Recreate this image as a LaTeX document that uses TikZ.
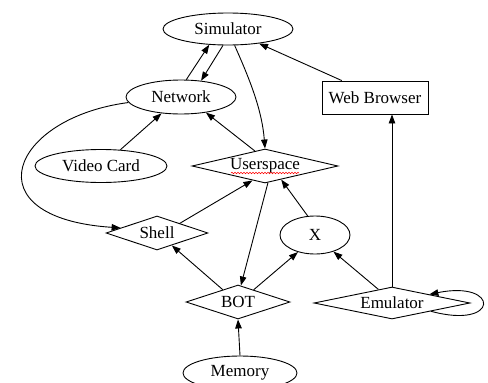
\documentclass[tikz,border=0pt]{standalone}
\usepackage{fontspec}
\setmainfont{Liberation Serif}
\usetikzlibrary{shapes.geometric,arrows.meta,decorations.pathmorphing,calc}
\begin{document}
\begin{tikzpicture}[x=1pt,y=-1pt,
  every node/.style={font=\fontsize{17}{19}\selectfont, inner sep=0pt, draw, line width=0.9pt},
  edge/.style={line width=0.9pt, -{Triangle[length=9pt,width=6.5pt]}}
]
\useasboundingbox (0,0) rectangle (488,383);
\node[ellipse, minimum width=130pt, minimum height=32pt] (Sim) at (228,29) {Simulator};
\node[ellipse, minimum width=110pt, minimum height=34pt] (Net) at (181,97) {Network};
\node[rectangle, minimum width=106pt, minimum height=33pt] (Web) at (375,97.5) {Web Browser};
\node[ellipse, minimum width=132pt, minimum height=33pt] (Video) at (101,166) {Video Card};
\node[diamond, aspect=4.3, minimum width=146pt, minimum height=34pt] (User) at (265,166) {Userspace};
\node[diamond, aspect=3, minimum width=102pt, minimum height=34pt] (Shell) at (157,233) {Shell};
\node[ellipse, minimum width=70pt, minimum height=38pt] (X) at (315,235) {X};
\node[diamond, aspect=3.06, minimum width=104pt, minimum height=34pt] (BOT) at (238,302) {BOT};
\node[diamond, aspect=4.9, minimum width=156pt, minimum height=32pt] (Emu) at (392,303) {Emulator};
\node[ellipse, minimum width=114pt, minimum height=34pt] (Mem) at (240,373) {Memory};

\draw[red, line width=0.5pt, decorate, decoration={snake, amplitude=0.8pt, segment length=3pt}]
  ($(User.center)+(-34,7)$) -- ($(User.center)+(34,7)$);

\draw[edge] (Net.73.6) -- (Sim.220);
\draw[edge] (Sim.253.6) -- (Net.39);
\draw[edge] (Sim.292.4) .. controls (250,80) and (262,110) .. (User.north);
\draw[edge] (Web.153.4) -- (Sim.335.4);
\draw[edge] (Video.40) -- (Net.220);
\draw[edge] (User.124) -- (Net.328.4);
\draw[edge] (Net.186.5) .. controls (10,118) and (-30,218) .. (Shell.172.3);
\draw[edge] (Shell.23.5) -- (User.229.4);
\draw[edge] (X.111) -- (User.320);
\draw[edge] (User.280) -- (BOT.80);
\draw[edge] (BOT.141) -- (Shell.320);
\draw[edge] (BOT.38.7) -- (X.225);
\draw[edge] (Emu.135) -- (X.318);
\draw[edge] (Emu.north) -- (Emu.north |- Web.south);
\draw[edge] (Emu.348) .. controls (500,330) and (500,280) .. (Emu.13.7);
\draw[edge] (Mem.north) -- (BOT.south);
\end{tikzpicture}
\end{document}
